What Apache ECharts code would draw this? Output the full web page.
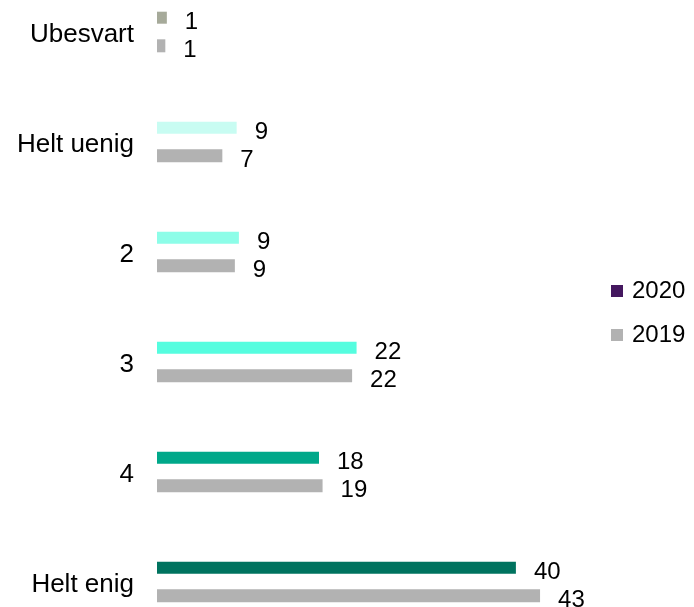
<!DOCTYPE html>
<html><head><meta charset="utf-8">
<script src="https://cdn.jsdelivr.net/npm/echarts@6/dist/echarts.min.js"></script>
<style>html,body{margin:0;padding:0;background:#fff;overflow:hidden}#c{position:absolute;left:0;top:-23px;width:694px;height:690px}</style>
</head><body><div id="c"></div>
<script>
const categories = ['Ubesvart', 'Helt uenig', '2', '3', '4', 'Helt enig'];
const values2020 = [1.1, 8.9, 9.15, 22.3, 18.1, 40.1];
const values2019 = [0.93, 7.3, 8.7, 21.8, 18.5, 42.8];
const colors2020 = ['#a6aa9a', '#c8fcf2', '#8dfde8', '#55fddf', '#00a88a', '#00735f'];
const seriesNames = ['2020', '2019'];

const chart = echarts.init(document.getElementById('c'));
const font = 'Liberation Sans, Arial, sans-serif';
const lbl = {show: true, position: 'right', distance: 18, offset: [0, 5], color: '#000', fontSize: 24, fontFamily: font,
  formatter: p => Math.round(p.value)};
chart.setOption({
  animation: false,
  grid: {left: 157, top: 0, width: 538, height: 660, containLabel: false},
  xAxis: {type: 'value', min: 0, max: 60, show: false},
  yAxis: {type: 'category', data: categories, inverse: true,
    axisLine: {show: false}, axisTick: {show: false},
    axisLabel: {color: '#000', fontSize: 26, fontFamily: font, margin: 23,
      formatter: v => '{a|' + v + '}',
      rich: {a: {color: '#000', fontSize: 26, fontFamily: font, padding: [6, 0, 0, 0]}}}},
  legend: {orient: 'vertical', left: 611, top: 302, padding: 0, itemWidth: 12, itemHeight: 12, itemGap: 20,
    icon: 'rect', textStyle: {fontSize: 24, fontFamily: font, color: '#000', padding: [0, 0, 0, 4]}, data: seriesNames},
  series: [
    {name: seriesNames[0], type: 'bar', barWidth: 12, barGap: '130%', color: '#44175f',
     data: values2020.map((v, i) => ({value: v, itemStyle: {color: colors2020[i]}})), label: lbl},
    {name: seriesNames[1], type: 'bar', barWidth: 13, color: '#b2b2b2',
     data: values2019, label: lbl}
  ]
});
</script></body></html>
